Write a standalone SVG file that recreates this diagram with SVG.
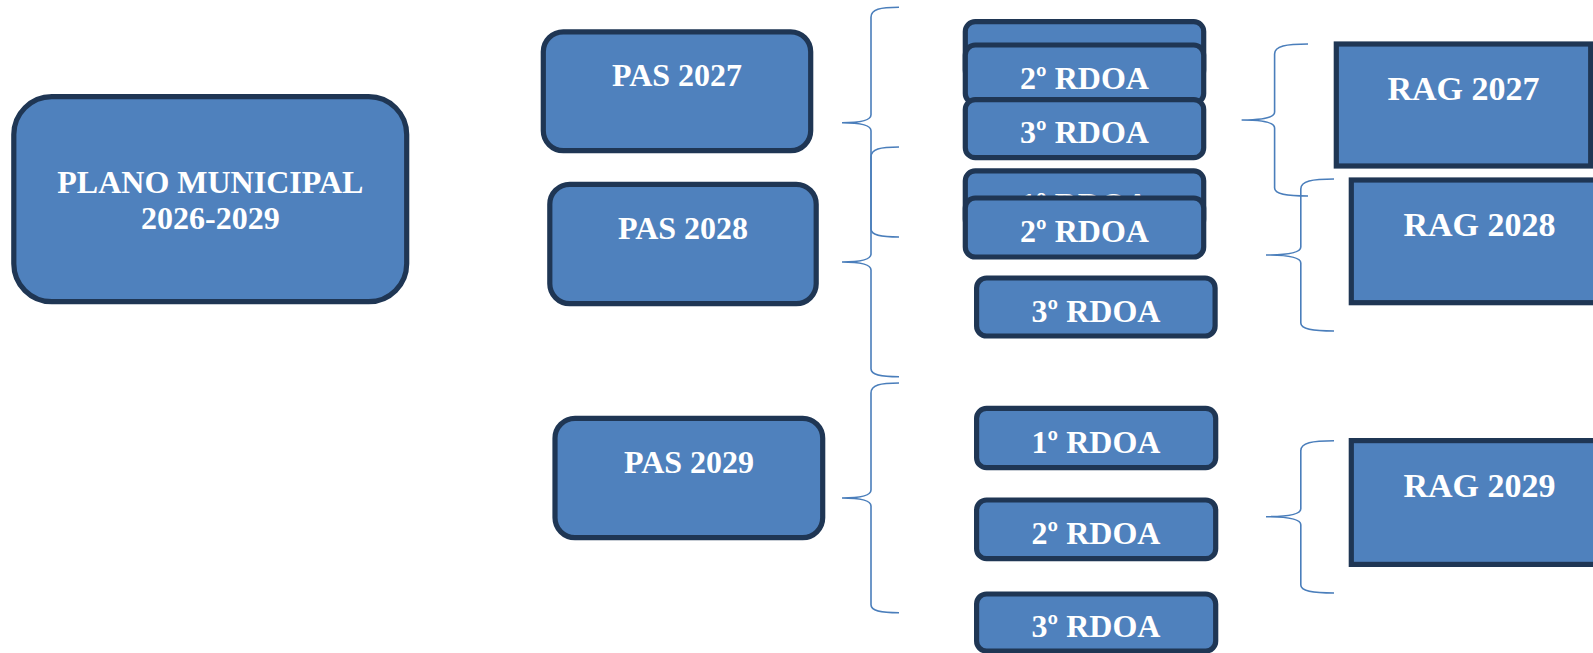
<svg xmlns="http://www.w3.org/2000/svg" width="1593" height="653" viewBox="0 0 1593 653">
<style>
.box{fill:#4F81BD;stroke:#1F3654;stroke-width:5.2}
.t{fill:#FFFFFF;font-family:"Liberation Serif","Times New Roman",serif;font-weight:bold;font-size:32px;text-anchor:middle}
.rag{font-size:34px}
.br{fill:none;stroke:#4A7EBB;stroke-width:1.6}
</style>
<rect width="1593" height="653" fill="#FFFFFF"/>
<g id="connectors">
<path class="br" d="M899,7.3 C880,7.3 871,9.3 871,17.3 L871,114.7 C871,120.7 860,122.7 842,122.7 C860,122.7 871,124.7 871,130.7 L871,229 C871,235 880,237 899,237"/>
<path class="br" d="M899,147 C880,147 871,149 871,157 L871,254 C871,260 860,262 842,262 C860,262 871,264 871,270 L871,368.7 C871,374.7 880,376.7 899,376.7"/>
<path class="br" d="M899,383 C880,383 871,385 871,393 L871,490 C871,496 860,498 842,498 C860,498 871,500 871,506 L871,604.7 C871,610.7 880,612.7 899,612.7"/>
<path class="br" d="M1308,44 C1286,44 1274.6,46 1274.6,54 L1274.6,112 C1274.6,118 1262,120 1241.6,120 C1262,120 1274.6,122 1274.6,128 L1274.6,188 C1274.6,194 1286,196 1308,196"/>
<path class="br" d="M1334,179 C1312,179 1300.8,181 1300.8,189 L1300.8,247 C1300.8,253 1288,255 1266,255 C1288,255 1300.8,257 1300.8,263 L1300.8,323 C1300.8,329 1312,331 1334,331"/>
<path class="br" d="M1334,440.7 C1312,440.7 1300.8,442.7 1300.8,450.7 L1300.8,508.7 C1300.8,514.7 1288,516.7 1266,516.7 C1288,516.7 1300.8,518.7 1300.8,524.7 L1300.8,585 C1300.8,591 1312,593 1334,593"/>
</g>
<g id="plano">
<rect class="box" x="13.8" y="96.6" width="392.9" height="205.1" rx="38"/>
<text class="t" x="210.3" y="192.7">PLANO MUNICIPAL</text>
<text class="t" x="210.3" y="228.7">2026-2029</text>
</g>
<g id="pas2027">
<rect class="box" x="543.3" y="31.8" width="267.4" height="118.9" rx="20"/>
<text class="t" x="677" y="86">PAS 2027</text>
</g>
<g id="pas2028">
<rect class="box" x="549.8" y="184.3" width="266.4" height="119.4" rx="20"/>
<text class="t" x="683" y="238.7">PAS 2028</text>
</g>
<g id="pas2029">
<rect class="box" x="555" y="418.3" width="267.7" height="119.4" rx="20"/>
<text class="t" x="689" y="473.3">PAS 2029</text>
</g>
<g id="rdoa2027-1">
<rect class="box" x="965.3" y="21.6" width="238.4" height="58.4" rx="10"/>
</g>
<g id="rdoa2027-2">
<rect class="box" x="965.3" y="45" width="238.4" height="58.4" rx="10"/>
<text class="t" x="1084.5" y="89.3">2º RDOA</text>
</g>
<g id="rdoa2027-3">
<rect class="box" x="965.3" y="99.6" width="238.4" height="58.1" rx="10"/>
<text class="t" x="1084.5" y="143.3">3º RDOA</text>
</g>
<g id="rdoa2028-1">
<rect class="box" x="965.3" y="170.8" width="238.4" height="58.4" rx="10"/>
<text class="t" x="1084.5" y="215">1º RDOA</text>
</g>
<g id="rdoa2028-2">
<rect class="box" x="965.3" y="198" width="238.4" height="59" rx="10"/>
<text class="t" x="1084.5" y="241.7">2º RDOA</text>
</g>
<g id="rdoa2028-3">
<rect class="box" x="976.6" y="278" width="238.5" height="58" rx="10"/>
<text class="t" x="1096" y="321.7">3º RDOA</text>
</g>
<g id="rdoa2029-1">
<rect class="box" x="976.6" y="408.3" width="239.1" height="59.4" rx="10"/>
<text class="t" x="1096" y="452.7">1º RDOA</text>
</g>
<g id="rdoa2029-2">
<rect class="box" x="976.6" y="500" width="239.1" height="58.7" rx="10"/>
<text class="t" x="1096" y="544">2º RDOA</text>
</g>
<g id="rdoa2029-3">
<rect class="box" x="976.6" y="594" width="239.1" height="57" rx="10"/>
<text class="t" x="1096" y="637.3">3º RDOA</text>
</g>
<g id="rag2027">
<rect class="box" x="1336.3" y="44" width="254.4" height="122"/>
<text class="t rag" x="1463.5" y="100">RAG 2027</text>
</g>
<g id="rag2028">
<rect class="box" x="1351.3" y="180" width="258" height="122.7"/>
<text class="t rag" x="1479.5" y="236">RAG 2028</text>
</g>
<g id="rag2029">
<rect class="box" x="1351.3" y="440.6" width="258" height="123.8"/>
<text class="t rag" x="1479.5" y="496.7">RAG 2029</text>
</g>
</svg>
